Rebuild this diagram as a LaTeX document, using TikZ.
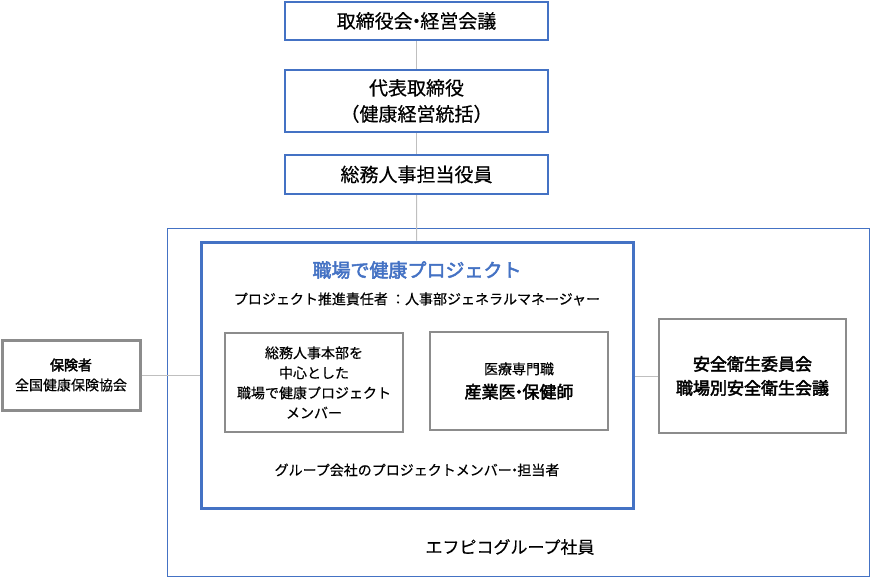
\documentclass[tikz,border=0pt]{standalone}
\usepackage{fontspec}
\setmainfont{Noto Sans CJK JP}[FakeBold=0.4]
\newfontfamily\medfont{Noto Sans CJK JP}[FakeBold=2.5]
\usetikzlibrary{positioning}
\definecolor{frameblue}{RGB}{68,114,196}
\definecolor{boxgray}{RGB}{140,140,140}
\definecolor{linegray}{RGB}{191,191,191}
\newcommand{\nakaguro}{\hspace{-0.3em}・\hspace{-0.3em}}

\begin{document}
\begin{tikzpicture}[x=1pt, y=-1pt,
        topbox/.style={draw=frameblue, line width=2pt, fill=white, minimum width=263pt, align=center, font=\fontsize{19}{26}\selectfont},
        graybox/.style={draw=boxgray, line width=1.5pt, fill=white, align=center},
        conn/.style={draw=linegray, line width=1pt}]
        \useasboundingbox (0,0) rectangle (871,578);

        % Leitungsebene (oben)
        \node[topbox, minimum height=38pt] (board) at (416.5, 21) {取締役会\nakaguro 経営会議};
        \node[topbox, minimum height=62pt] (ceo) at (416.5, 101) {代表取締役\\（健康経営統括）};
        \node[topbox, minimum height=39pt] (exec) at (416.5, 174.5) {総務人事担当役員};

        % Rahmen Konzernmitarbeiter
        \node[draw=frameblue, line width=1pt, minimum width=702pt, minimum height=348pt] (group) at (518, 402) {};
        \node[font=\fontsize{17}{20}\selectfont] (grouplabel) at (510, 547) {エフピコグループ社員};

        % Projekt
        \node[draw=frameblue, line width=3pt, fill=white, minimum width=432pt, minimum height=266pt] (proj) at (417, 375) {};
        \node[text=frameblue, font=\medfont\fontsize{19}{22}\selectfont] (projtitle) at (417, 270) {職場で健康プロジェクト};
        \node[font=\fontsize{14}{18}\selectfont] (lead) at (417, 299) {プロジェクト推進責任者 ：人事部ジェネラルマネージャー};
        \node[graybox, minimum width=178pt, minimum height=99pt, font=\fontsize{14}{20}\selectfont] (members) at (314, 382.5) {総務人事本部を\\中心とした\\職場で健康プロジェクト\\メンバー};
        \node[graybox, minimum width=178pt, minimum height=98pt, font=\fontsize{14}{24}\selectfont] (medical) at (519, 381) {医療専門職\\{\medfont\fontsize{17}{20}\selectfont 産業医\nakaguro 保健師}};
        \node[font=\fontsize{14}{18}\selectfont] (groupmem) at (417, 470) {グループ会社のプロジェクトメンバー\nakaguro 担当者};

        % seitliche Stellen
        \node[graybox, line width=3pt, minimum width=138pt, minimum height=70pt, font=\fontsize{14}{20}\selectfont] (insurer) at (71, 375) {{\medfont 保険者}\\全国健康保険協会};
        \node[graybox, minimum width=187pt, minimum height=114pt, font=\medfont\fontsize{17}{24}\selectfont] (safety) at (752.5, 376) {安全衛生委員会\\職場別安全衛生会議};

        % Verbindungen
        \draw[conn] (board) -- (ceo);
        \draw[conn] (ceo) -- (exec);
        \draw[conn] (exec) -- (proj);
        \draw[conn] (insurer.east) -- (insurer.east -| proj.west);
        \draw[conn] (safety.west) -- (safety.west -| proj.east);
\end{tikzpicture}
\end{document}
